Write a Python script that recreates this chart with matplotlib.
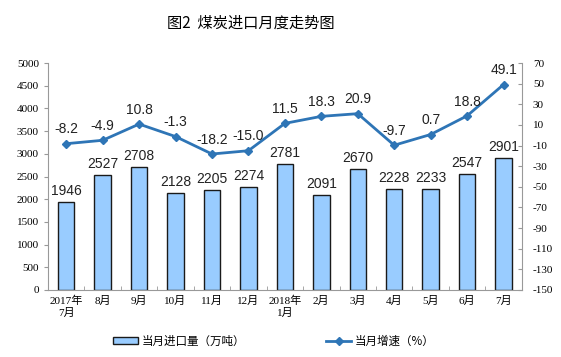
import matplotlib.pyplot as plt
import numpy as np

plt.rcParams['font.family'] = ['Liberation Serif', 'Noto Sans CJK SC']
plt.rcParams['axes.unicode_minus'] = False

months = ["2017年\n7月", "8月", "9月", "10月", "11月", "12月", "2018年\n1月",
          "2月", "3月", "4月", "5月", "6月", "7月"]
imports = [1946, 2527, 2708, 2128, 2205, 2274, 2781, 2091, 2670, 2228, 2233, 2547, 2901]
growth = [-8.2, -4.9, 10.8, -1.3, -18.2, -15.0, 11.5, 18.3, 20.9, -9.7, 0.7, 18.8, 49.1]

bar_color = "#99CCFF"
line_color = "#2E75B6"
label_font = ['Liberation Sans', 'Noto Sans CJK SC']

fig = plt.figure(figsize=(5.61, 3.57), dpi=100)
ax = fig.add_axes([0.0856, 0.1877, 0.8444, 0.6358])
x = np.arange(len(months))

bars = ax.bar(x, imports, width=0.45, color=bar_color, edgecolor="#1a1a1a",
              linewidth=1.0, label="当月进口量（万吨）", zorder=2)
ax.set_xlim(-0.5, len(months) - 0.5)
ax.set_ylim(0, 5000)
ax.set_yticks(np.arange(0, 5001, 500))
ax.set_xticks(x)
ax.set_xticklabels(months, fontsize=8, linespacing=1.3)
ax.tick_params(axis='x', length=0, pad=4)
ax.set_xticks(np.arange(-0.5, len(months), 1), minor=True)
ax.tick_params(axis='x', which='minor', length=3, direction='in', color="#999999")
ax.tick_params(axis='y', labelsize=8, length=3, direction='out', color="#999999")
for s in ["top", "right"]:
    ax.spines[s].set_visible(False)
ax.spines["left"].set_color("#999999")
ax.spines["bottom"].set_color("#999999")

for xi, v in zip(x, imports):
    ax.text(xi, v + 90, str(v), ha="center", va="bottom", fontsize=10,
            family=label_font, color="#222222")

ax2 = ax.twinx()
ax2.plot(x, growth, color=line_color, linewidth=2, marker="D", markersize=4,
         label="当月增速（%）", zorder=3)
ax2.set_ylim(-150, 70)
ax2.set_yticks(np.arange(-150, 71, 20))
ax2.tick_params(axis='y', labelsize=8, length=3, direction='in', color="#999999", pad=8)
for s in ["top", "left", "bottom"]:
    ax2.spines[s].set_visible(False)
ax2.spines["right"].set_color("#999999")

for xi, v in zip(x, growth):
    ax2.text(xi, v + 7, f"{v:.1f}", ha="center", va="bottom", fontsize=10,
             family=label_font, color="#222222")

fig.text(0.447, 0.935, "图2  煤炭进口月度走势图", ha="center", va="center",
         fontsize=11, family=['Noto Sans CJK SC'])

h1, l1 = ax.get_legend_handles_labels()
h2, l2 = ax2.get_legend_handles_labels()
fig.legend(h1 + h2, l1 + l2, loc="center", bbox_to_anchor=(0.488, 0.045), ncol=2,
           frameon=False, handlelength=2.2, handleheight=0.5, handletextpad=0.3,
           columnspacing=7, prop={'family': ['Noto Sans CJK SC'], 'size': 8.3})

fig.savefig("out.png", dpi=100)
